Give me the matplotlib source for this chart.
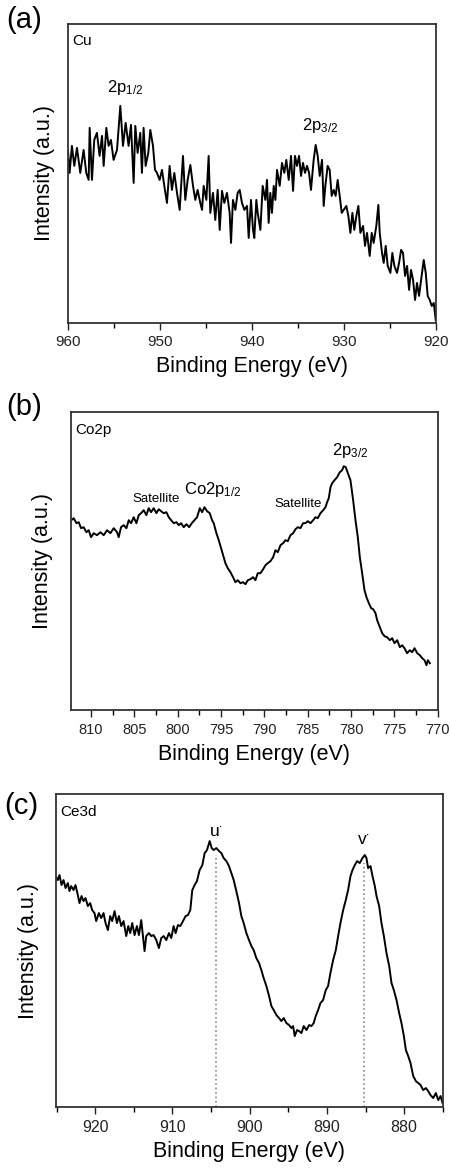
import matplotlib

matplotlib.use('Agg')
import matplotlib.pyplot as plt
from matplotlib.ticker import MultipleLocator

plt.rcParams['font.family'] = ['Liberation Sans', 'DejaVu Sans']
plt.rcParams['mathtext.fontset'] = 'custom'
plt.rcParams['mathtext.rm'] = 'Liberation Sans'
plt.rcParams['mathtext.it'] = 'Liberation Sans'

# (a) Cu 2p spectrum, binding energy (eV) / intensity (a.u.)
cu_be = [960.00, 959.82, 959.57, 959.31, 959.02, 958.66, 958.30, 958.01, 957.75, 957.64,
         957.39, 957.14, 956.85, 956.56, 956.30, 956.12, 955.83, 955.58, 955.33, 955.04,
         954.67, 954.31, 954.02, 953.73, 953.41, 953.15, 952.86, 952.68, 952.43, 952.14,
         951.96, 951.78, 951.56, 951.27, 951.05, 950.76, 950.54, 950.33, 950.04, 949.78,
         949.53, 949.24, 948.95, 948.70, 948.44, 948.15, 947.86, 947.50, 947.25, 946.99,
         946.70, 946.41, 946.16, 945.91, 945.62, 945.43, 945.25, 944.96, 944.71, 944.53,
         944.24, 943.99, 943.73, 943.51, 943.26, 943.01, 942.72, 942.43, 942.28, 942.07,
         941.81, 941.56, 941.34, 941.09, 940.83, 940.54, 940.36, 940.11, 939.89, 939.75,
         939.53, 939.38, 939.09, 938.84, 938.55, 938.37, 938.19, 938.01, 937.83, 937.64,
         937.46, 937.28, 936.99, 936.74, 936.49, 936.27, 936.01, 935.76, 935.54, 935.33,
         935.11, 934.89, 934.67, 934.46, 934.24, 934.02, 933.80, 933.59, 933.30, 933.08,
         932.86, 932.64, 932.39, 932.21, 932.03, 931.78, 931.56, 931.34, 931.12, 930.91,
         930.69, 930.47, 930.25, 930.04, 929.75, 929.53, 929.31, 929.09, 928.88, 928.66,
         928.44, 928.22, 927.93, 927.72, 927.50, 927.21, 926.99, 926.78, 926.49, 926.27,
         926.12, 925.87, 925.69, 925.47, 925.25, 924.96, 924.75, 924.53, 924.24, 924.02,
         923.80, 923.59, 923.37, 923.15, 922.93, 922.72, 922.50, 922.28, 922.07, 921.85,
         921.56, 921.34, 921.12, 920.91, 920.69, 920.47, 920.25, 920.04]
cu_int = [173, 150, 177, 157, 175, 150, 173, 150, 143, 195,
          143, 183, 190, 167, 187, 157, 195, 177, 183, 163,
          173, 217, 177, 200, 177, 198, 140, 197, 170, 190,
          150, 195, 157, 170, 193, 177, 153, 150, 143, 153,
          137, 120, 157, 133, 150, 130, 113, 167, 123, 143,
          158, 137, 123, 133, 120, 113, 137, 123, 167, 110,
          130, 103, 133, 93, 132, 120, 130, 110, 80, 123,
          113, 130, 133, 120, 113, 117, 85, 123, 93, 85,
          123, 110, 93, 137, 123, 143, 100, 130, 110, 137,
          123, 153, 137, 160, 150, 163, 143, 167, 132, 167,
          157, 167, 147, 160, 150, 157, 150, 133, 163, 178,
          167, 147, 163, 117, 137, 157, 153, 127, 133, 127,
          143, 127, 110, 113, 117, 107, 90, 110, 93, 107,
          117, 90, 97, 77, 90, 67, 90, 80, 97, 118,
          90, 70, 60, 77, 57, 50, 70, 57, 50, 60,
          73, 70, 47, 57, 33, 53, 43, 23, 40, 27,
          47, 63, 50, 27, 23, 17, 20, 3]

# (b) Co 2p spectrum
co_be = [812.27, 812.00, 811.69, 811.42, 811.15, 810.85, 810.54, 810.27, 810.00, 809.69,
         809.31, 808.92, 808.54, 808.15, 807.77, 807.38, 807.00, 806.81, 806.54, 806.23,
         805.92, 805.65, 805.38, 805.08, 804.77, 804.50, 804.23, 803.92, 803.62, 803.35,
         803.08, 802.77, 802.46, 802.19, 801.92, 801.62, 801.31, 801.04, 800.77, 800.46,
         800.15, 799.88, 799.62, 799.31, 799.00, 798.69, 798.38, 798.08, 797.77, 797.46,
         797.19, 796.92, 796.62, 796.31, 796.04, 795.85, 795.54, 795.27, 795.00, 794.77,
         794.50, 794.23, 793.92, 793.62, 793.35, 793.08, 792.77, 792.46, 792.19, 791.92,
         791.62, 791.31, 791.04, 790.77, 790.46, 790.15, 789.88, 789.62, 789.31, 789.00,
         788.73, 788.46, 788.15, 787.85, 787.58, 787.31, 787.00, 786.69, 786.42, 786.15,
         785.85, 785.54, 785.27, 785.00, 784.69, 784.38, 784.12, 783.85, 783.54, 783.23,
         782.96, 782.77, 782.58, 782.38, 782.19, 781.92, 781.62, 781.31, 781.04, 780.85,
         780.62, 780.38, 780.08, 779.77, 779.50, 779.23, 779.00, 778.73, 778.46, 778.23,
         777.96, 777.69, 777.46, 777.19, 777.00, 776.69, 776.42, 776.15, 775.85, 775.54,
         775.27, 775.00, 774.69, 774.38, 774.12, 773.85, 773.54, 773.23, 772.96, 772.69,
         772.38, 772.08, 771.81, 771.54, 771.31, 771.15, 770.92]
co_int = [190, 192, 187, 188, 182, 183, 178, 180, 173, 177,
          175, 178, 175, 180, 177, 182, 178, 173, 183, 185,
          182, 190, 187, 193, 187, 195, 197, 200, 195, 202,
          198, 202, 197, 201, 199, 197, 198, 193, 190, 187,
          188, 185, 187, 183, 186, 183, 187, 190, 193, 202,
          198, 203, 199, 197, 190, 187, 177, 170, 162, 155,
          147, 142, 138, 133, 128, 130, 127, 128, 126, 130,
          131, 133, 130, 137, 137, 141, 145, 147, 149, 153,
          160, 158, 165, 167, 170, 169, 175, 177, 181, 183,
          182, 187, 187, 189, 187, 190, 193, 192, 197, 200,
          203, 208, 212, 223, 227, 230, 233, 238, 240, 244,
          243, 237, 230, 210, 190, 173, 153, 137, 120, 113,
          107, 102, 101, 97, 90, 83, 77, 74, 73, 70,
          72, 67, 70, 63, 65, 62, 57, 60, 58, 62,
          57, 55, 52, 50, 45, 50, 47]

# (c) Ce 3d spectrum
ce_be = [925.14, 924.84, 924.62, 924.36, 924.10, 923.84, 923.54, 923.33, 923.11, 922.81,
         922.55, 922.25, 922.03, 921.77, 921.51, 921.25, 920.95, 920.65, 920.39, 920.09,
         919.87, 919.52, 919.22, 918.92, 918.66, 918.36, 918.06, 917.80, 917.49, 917.19,
         916.93, 916.63, 916.33, 915.98, 915.72, 915.46, 915.21, 914.90, 914.60, 914.34,
         914.04, 913.82, 913.61, 913.39, 913.05, 912.74, 912.44, 912.09, 911.75, 911.45,
         911.14, 910.80, 910.45, 910.15, 909.85, 909.59, 909.29, 908.98, 908.64, 908.29,
         907.99, 907.69, 907.43, 907.13, 906.83, 906.48, 906.13, 905.83, 905.53, 905.18,
         904.92, 904.67, 904.32, 903.97, 903.67, 903.37, 903.02, 902.68, 902.38, 902.07,
         901.73, 901.38, 901.08, 900.78, 900.43, 900.09, 899.78, 899.48, 899.14, 898.79,
         898.49, 898.19, 897.84, 897.49, 897.19, 896.89, 896.54, 896.20, 895.90, 895.59,
         895.25, 894.90, 894.60, 894.38, 894.17, 893.87, 893.61, 893.30, 893.00, 892.65,
         892.31, 892.01, 891.71, 891.45, 891.14, 890.84, 890.50, 890.15, 889.85, 889.55,
         889.20, 888.85, 888.55, 888.25, 887.90, 887.56, 887.26, 886.95, 886.69, 886.39,
         886.09, 885.75, 885.40, 885.10, 884.88, 884.67, 884.36, 884.10, 883.80, 883.58,
         883.24, 882.94, 882.63, 882.29, 881.94, 881.64, 881.34, 880.99, 880.65, 880.35,
         880.04, 879.78, 879.48, 879.18, 878.83, 878.49, 878.18, 877.88, 877.54, 877.19,
         876.89, 876.59, 876.24, 875.90, 875.59, 875.29, 875.03]
ce_int = [231, 227, 232, 222, 227, 219, 224, 216, 221, 217,
          222, 212, 204, 211, 206, 209, 201, 204, 197, 194,
          186, 194, 189, 194, 184, 177, 191, 186, 196, 184,
          191, 181, 186, 171, 181, 174, 184, 172, 181, 172,
          187, 171, 156, 171, 174, 171, 172, 167, 159, 169,
          171, 167, 174, 169, 181, 174, 182, 181, 186, 191,
          192, 197, 217, 222, 226, 237, 242, 254, 257, 266,
          259, 257, 259, 256, 254, 249, 246, 241, 234, 227,
          216, 204, 191, 184, 174, 167, 161, 157, 149, 144,
          137, 129, 121, 111, 101, 97, 92, 89, 86, 89,
          84, 82, 79, 81, 71, 77, 76, 74, 81, 77,
          82, 81, 84, 91, 97, 104, 107, 117, 121, 134,
          147, 157, 171, 184, 197, 207, 217, 231, 237, 242,
          246, 244, 249, 252, 249, 239, 241, 231, 221, 211,
          201, 184, 171, 154, 141, 124, 117, 107, 94, 84,
          71, 57, 51, 44, 31, 26, 24, 22, 17, 19,
          16, 12, 9, 14, 7, 11, 4]

# peak markers in (c)
ce_peak_be = [904.4, 885.2]
ce_peak_int = [252, 244]
ce_peak_names = ['u', 'v']

fig = plt.figure(figsize=(4.5, 11.7), dpi=100)
ax_a = fig.add_axes([0.151, 0.724, 0.818, 0.2556])
ax_b = fig.add_axes([0.158, 0.393, 0.815, 0.2547])
ax_c = fig.add_axes([0.124, 0.0538, 0.86, 0.2675])

panels = [
    (ax_a, cu_be, cu_int, (960, 920), 299, 10, 5, 'Cu', 11, 9),
    (ax_b, co_be, co_int, (812.3, 770), 298, 5, 2.5, 'Co2p', 10.5, 13),
    (ax_c, ce_be, ce_int, (925.1, 875), 313, 10, 5, 'Ce3d', 11.5, 12),
]
for ax, x, y, xl, ytop, major, minor, name, tsize, ypad in panels:
    ax.plot(x, y, color='black', lw=1.4)
    ax.set_xlim(*xl)
    ax.set_ylim(0, ytop)
    ax.xaxis.set_major_locator(MultipleLocator(major))
    ax.xaxis.set_minor_locator(MultipleLocator(minor))
    ax.set_yticks([])
    ax.tick_params(axis='x', which='major', direction='out', length=5, width=1,
                   labelsize=tsize, pad=4, colors='#222222')
    ax.tick_params(axis='x', which='minor', direction='out', length=3.5, width=1)
    for sp in ax.spines.values():
        sp.set_color('#333333')
        sp.set_linewidth(1.3)
    ax.set_xlabel('Binding Energy (eV)', fontsize=15.5, labelpad=5)
    ax.set_ylabel('Intensity (a.u.)', fontsize=15.5, labelpad=ypad)
    ax.text(0.012, 0.965, name, transform=ax.transAxes, ha='left', va='top', fontsize=11)

# annotations (a)
ax_a.text(953.8, 231, '2p$_{1/2}$', ha='center', va='baseline', fontsize=12)
ax_a.text(932.6, 193, '2p$_{3/2}$', ha='center', va='baseline', fontsize=12)

# annotations (b)
ax_b.text(802.5, 205, 'Satellite', ha='center', va='bottom', fontsize=9.5)
ax_b.text(796.0, 211, 'Co2p$_{1/2}$', ha='center', va='bottom', fontsize=12)
ax_b.text(786.1, 200, 'Satellite', ha='center', va='bottom', fontsize=9.5)
ax_b.text(780.1, 250, '2p$_{3/2}$', ha='center', va='bottom', fontsize=12)

# annotations (c)
for be, top, nm in zip(ce_peak_be, ce_peak_int, ce_peak_names):
    ax_c.plot([be, be], [0, top], color='#888888', lw=1.2, ls=':')
    ax_c.text(be, top + 16, nm + r'$^{\cdot}$', ha='center', va='bottom', fontsize=12.5)

fig.text(0.013, 0.995, '(a)', ha='left', va='top', fontsize=21)
fig.text(0.013, 0.664, '(b)', ha='left', va='top', fontsize=21)
fig.text(0.010, 0.323, '(c)', ha='left', va='top', fontsize=21)

fig.savefig('out.png', dpi=100)
